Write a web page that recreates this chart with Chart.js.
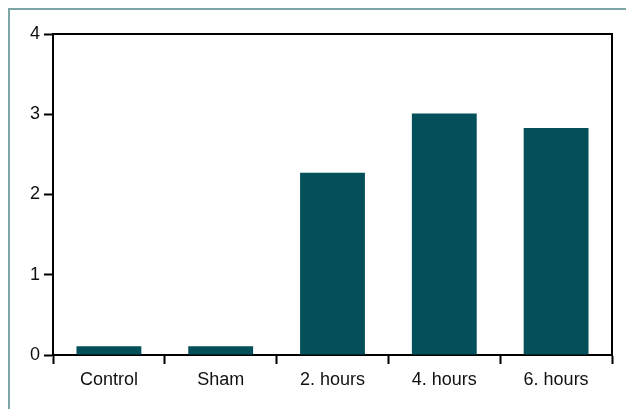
<!DOCTYPE html>
<html>
<head>
<meta charset="utf-8">
<script src="https://cdn.jsdelivr.net/npm/chart.js@4"></script>
<style>
  body { margin: 0; background: #fff; }
  canvas { display: block; }
</style>
</head>
<body>
<canvas id="barChart" width="626" height="409"></canvas>
<script>
var categories = ['Control', 'Sham', '2. hours', '4. hours', '6. hours'];
var values = [0.11, 0.11, 2.27, 3.01, 2.83];
var yTicks = [0, 1, 2, 3, 4];

// frame of the figure (top + left edge) and box round the plot
var framePlugin = {
  id: 'frame',
  beforeDraw: function (chart) {
    var c = chart.ctx;
    c.save();
    c.strokeStyle = '#7ca5a5';
    c.lineWidth = 2;
    c.beginPath();
    c.moveTo(626, 9);
    c.lineTo(9, 9);
    c.lineTo(9, 409);
    c.stroke();
    c.restore();
  },
  afterDraw: function (chart) {
    var a = chart.chartArea;
    var c = chart.ctx;
    c.save();
    c.strokeStyle = '#000';
    c.lineWidth = 2;
    c.beginPath();
    c.moveTo(a.left, a.top);
    c.lineTo(a.right, a.top);
    c.lineTo(a.right, a.bottom);
    c.stroke();
    c.restore();
  }
};

var ctx = document.getElementById('barChart').getContext('2d');
new Chart(ctx, {
  type: 'bar',
  data: {
    labels: categories,
    datasets: [{
      data: values,
      backgroundColor: '#034f5a',
      barPercentage: 0.58,
      categoryPercentage: 1
    }]
  },
  options: {
    responsive: false,
    animation: false,
    layout: { padding: { left: 0, top: 34, right: 14, bottom: 0 } },
    plugins: { legend: { display: false }, tooltip: { enabled: false } },
    scales: {
      x: {
        afterFit: function (s) { s.height = 54; },
        border: { color: '#000', width: 2 },
        grid: { offset: true, drawOnChartArea: false, color: '#000', tickColor: '#000', tickLength: 9, tickWidth: 2 },
        ticks: { color: '#111', padding: 5, font: { family: 'Liberation Sans, Arial', size: 18 } }
      },
      y: {
        min: 0,
        max: 4,
        afterFit: function (s) { s.width = 53; },
        afterBuildTicks: function (s) { s.ticks = yTicks.map(function (v) { return { value: v }; }); },
        border: { color: '#000', width: 2 },
        grid: { drawOnChartArea: false, color: '#000', tickColor: '#000', tickLength: 9, tickWidth: 2 },
        ticks: { color: '#111', padding: 4, font: { family: 'Liberation Sans, Arial', size: 18 } }
      }
    }
  },
  plugins: [framePlugin]
});
</script>
</body>
</html>
